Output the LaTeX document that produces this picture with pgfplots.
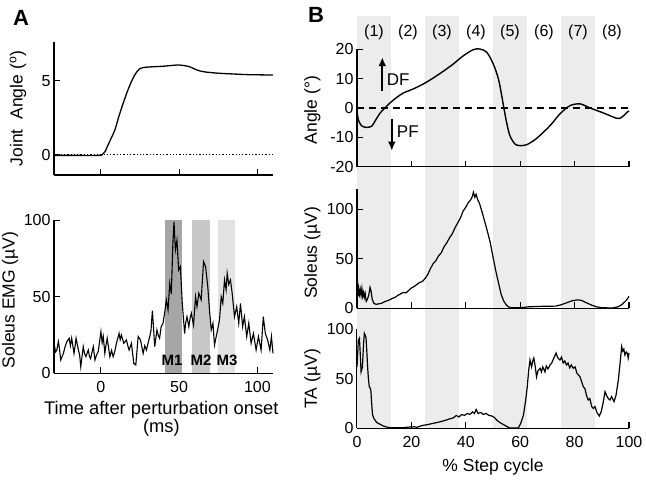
\documentclass[border=0pt]{standalone}
\usepackage{fontspec}
\setmainfont{Liberation Sans}
\usepackage{pgfplots}
\pgfplotsset{compat=1.18}
\usetikzlibrary{arrows.meta}
\definecolor{bandB}{RGB}{236,236,236}
\definecolor{Mone}{RGB}{166,166,166}
\definecolor{Mtwo}{RGB}{200,200,200}
\definecolor{Mthree}{RGB}{227,227,227}
\newcommand{\myfs}{\fontsize{16}{18}\selectfont}
\newcommand{\mylfs}{\fontsize{17.5}{18}\selectfont}
\pgfplotsset{
  myax/.style={
    scale only axis, axis x line*=bottom, axis y line*=left,
    tick align=inside, major tick length=6pt,
    every tick/.style={black, line width=1.1pt},
    axis line style={line width=1.1pt, black},
    xticklabel style={font=\myfs, yshift=-4pt},
    yticklabel style={font=\myfs},
    /pgf/number format/assume math mode=true,
    clip=false, anchor=south west
  }
}
\begin{document}
\begin{tikzpicture}
\path[use as bounding box] (0,0) rectangle (646pt,480pt);
\node[font=\bfseries\fontsize{22}{24}\selectfont] at (21pt,462pt) {A};
\node[font=\bfseries\fontsize{22}{24}\selectfont] at (316pt,465pt) {B};

% ---------- Panel A top ----------
\begin{axis}[myax, at={(54pt,305pt)}, width=219pt, height=133pt,
  xmin=-30, xmax=110, ymin=-1.35, ymax=7.6,
  xtick={0,50,100}, xticklabel=\empty, ytick={0,5},
  ylabel={Joint\ \ Angle (\textsuperscript{o})},
  y label style={font=\mylfs, at={(axis description cs:-0.164,0.5)}, anchor=center}]
\addplot[black, line width=0.9pt, dash pattern=on 1.3pt off 2pt] coordinates {(-30,0) (110,0)};
\addplot[black, line width=1.3pt, smooth] coordinates {
(-30,-0.03) (-15,-0.03) (-1,-0.03) (1,0.05) (2.5,0.2) (3.6,0.45) (6,1.0) (8.9,1.68) (11.5,2.6)
(14.2,3.47) (17,4.3) (19.5,4.93) (22,5.45) (24.8,5.8) (27,5.88) (31,5.92) (40,5.97)
(46,6.03) (50,6.05) (54,6.0) (57,5.92) (60,5.78) (63,5.66) (67,5.58) (75,5.5)
(84,5.45) (95,5.4) (110,5.38)};
\end{axis}

% ---------- Panel A bottom ----------
\begin{axis}[myax, at={(54pt,106.7pt)}, width=219pt, height=153pt,
  xmin=-30, xmax=110, ymin=0, ymax=100,
  xtick={0,50,100}, ytick={0,50,100},
  ylabel={Soleus EMG (µV)},
  y label style={font=\mylfs, at={(axis description cs:-0.201,0.48)}, anchor=center},
  xlabel={Time after perturbation onset\\(ms)},
  x label style={font=\fontsize{18.3}{18}\selectfont, at={(axis description cs:0.49,-0.30)}, anchor=center, align=center}]
\addplot[fill=Mone, draw=none] coordinates {(41,0) (41,100) (52,100) (52,0)} -- cycle;
\addplot[fill=Mtwo, draw=none] coordinates {(58.5,0) (58.5,100) (70,100) (70,0)} -- cycle;
\addplot[fill=Mthree, draw=none] coordinates {(75,0) (75,100) (86,100) (86,0)} -- cycle;
\addplot[black, line width=1.1pt] coordinates {
(-30,19.6) (-29,14) (-28.2,15.2) (-27.2,20.7) (-26.5,16) (-25.7,8.7) (-24,13) (-23,17) (-21.8,20.7)
(-20.3,22.9) (-19.5,18) (-18.7,22.9) (-17.2,13) (-16.5,18) (-15.9,22.9) (-14.4,15.2) (-13.6,12) (-12.9,4.3)
(-11.3,17.4) (-10.5,13) (-9.6,10.9) (-8.1,15.2) (-7.3,11) (-6.6,9.6) (-4.9,17.4) (-3.8,8.7) (-2.8,12) (-1.7,14.3)
(0,27.2) (0.8,20) (1.5,24) (2.5,13) (3.2,18) (4,22.9) (5.7,10.9) (6.8,15) (7.8,10.9) (8.8,14) (9.9,19.6)
(11.6,26.1) (12.3,22) (13.1,25) (14.6,19.6) (16.3,21.8) (17.2,18) (18,15.2) (19.5,19.6) (21,6.5) (22.3,5.4)
(23.8,24) (25.3,21.8) (26.2,17) (27,13) (28,18) (29.1,15.2) (30.2,20) (31.2,24) (32,28) (32.9,41) (33.6,30) (34.4,17.4)
(35.8,28.3) (36.6,25) (37.5,22.9) (38.5,30.5) (39.7,32.7) (40.8,40) (41.8,47.9) (42.9,41.4) (44,58.8)
(45,52) (46,85) (46.7,99) (47.6,80.6) (48.6,87) (49.7,67.5) (50.8,69.7) (52,45.7)
(53.5,26) (54.2,33) (55,37) (56.2,30.5) (57,36) (57.8,39.2) (59.2,31.6) (60.5,50) (61.4,43.6) (62.6,52.3)
(64.1,48) (65.6,73) (66.9,69.7) (68.3,56.6) (69.4,41.4) (70.5,28.3) (71.6,32.7)
(72.6,18.5) (74.1,26) (75.8,34.8) (76.9,50) (77.9,45.7) (79,61) (80,54.5) (80.7,65.4)
(81.7,58) (82.8,61) (83.9,52.3) (85.4,37) (86.8,43.6) (88.1,32.7) (89.2,45.7)
(90.6,30.5) (91.7,37) (93.2,24) (94.5,32.7) (96,19.6) (97.5,26) (99.2,15.2) (100.7,24)
(102.4,15.2) (103.8,37) (105.1,26) (106.6,21.8) (108,15.2) (109,24) (110,13)};
\node[font=\bfseries\fontsize{15}{16}\selectfont] at (axis cs:45.5,8.7) {M1};
\node[font=\bfseries\fontsize{15}{16}\selectfont] at (axis cs:64,8.7) {M2};
\node[font=\bfseries\fontsize{15}{16}\selectfont] at (axis cs:80.7,8.7) {M3};
\end{axis}

% ---------- Panel B: TA (bands drawn here) ----------
\begin{axis}[myax, at={(357pt,51.7pt)}, width=272pt, height=99pt,
  xmin=0, xmax=100, ymin=0, ymax=100,
  xtick={0,20,...,100}, ytick={0,50,100},
  xlabel={\% Step cycle}, ylabel={TA (µV)},
  y label style={font=\mylfs, at={(axis description cs:-0.164,0.5)}, anchor=center},
  x label style={font=\mylfs, at={(axis description cs:0.5,-0.39)}, anchor=center}]
\addplot[fill=bandB, draw=none] coordinates {(0,0) (0,416.5) (12.5,416.5) (12.5,0)} -- cycle;
\addplot[fill=bandB, draw=none] coordinates {(25,0) (25,416.5) (37.5,416.5) (37.5,0)} -- cycle;
\addplot[fill=bandB, draw=none] coordinates {(50,0) (50,416.5) (62.5,416.5) (62.5,0)} -- cycle;
\addplot[fill=bandB, draw=none] coordinates {(75,0) (75,416.5) (87.5,416.5) (87.5,0)} -- cycle;
\addplot[black, line width=1.2pt] coordinates {
(0,62) (0.5,89) (0.9,91) (1.2,75) (1.5,57) (2.0,62) (2.4,85) (2.7,96) (3.0,94) (3.3,92)
(3.6,78) (3.9,62) (4.2,50) (4.5,42) (4.8,41) (5.1,38) (5.4,25) (5.7,14) (6.2,10) (7.2,6)
(8.5,4) (9.7,2.3) (11,1.2) (12.1,0.6) (14,0.5) (17,0.6) (19,1.2) (21,1.5) (22,1.0)
(24,2.8) (26,3.8) (28,5.0) (30,6.2) (31.7,7.4) (33,8.5) (34,9.5) (35.4,10.5) (36.5,13)
(37.5,11.5) (38.5,14) (39.5,13) (40.5,15) (41.5,14) (42.5,16.5) (43.2,15) (43.8,19)
(44.5,15) (45.5,16) (46.4,14) (47.5,15) (48.5,13) (49.5,12.5) (50.5,11) (51.5,8)
(52.6,5.7) (54,3.5) (55,2) (56.2,0.3) (58,0.2) (59.3,0.3) (60.2,5) (61.2,13.4) (62,28)
(62.6,42) (63.1,58) (63.6,69) (64.2,62) (64.6,68) (65,71) (65.5,63) (66,52) (66.5,58)
(67.3,60.6) (67.8,57) (68.3,62) (69.1,57) (69.6,63) (70.2,60) (71,64) (71.6,66)
(72.2,70) (72.7,73) (73.2,76) (73.7,72) (74.2,70) (74.6,69) (75.2,72) (75.8,66)
(76.4,68) (77,64) (77.6,66) (78.2,61) (78.8,64) (79.5,60.6) (80.2,62) (80.8,56)
(81.4,54) (82,52) (82.6,47) (83.2,42) (83.8,40) (84.4,33) (85,28.6) (85.6,30) (86.3,22)
(86.9,20) (87.5,22) (88.2,16) (89.1,12.4) (89.8,17) (90.5,26) (91.2,37) (91.8,33)
(92.4,30) (93,28.6) (93.6,32) (94.5,27) (95.2,33) (95.7,42) (96.1,49) (96.7,65)
(97.3,82.5) (97.7,78) (98.1,80) (98.5,74) (99,77) (99.4,75.8) (99.7,71) (100,76)};
\end{axis}

% ---------- Panel B: Soleus ----------
\begin{axis}[myax, at={(357pt,171.7pt)}, width=272pt, height=119pt,
  xmin=0, xmax=100, ymin=0, ymax=120,
  xtick={0,20,...,100}, xticklabel=\empty, ytick={0,50,100},
  ylabel={Soleus (µV)},
  y label style={font=\mylfs, at={(axis description cs:-0.164,0.465)}, anchor=center}]
\addplot[black, line width=1.2pt] coordinates {
(0,42) (0.3,12) (0.6,20) (0.9,14) (1.2,19) (1.5,13) (1.8,20) (2.1,12) (2.4,16) (2.7,11)
(3.0,15) (3.4,7) (3.8,9) (4.3,13) (4.8,21) (5.2,17) (5.6,9) (6.2,5) (7,4) (8,4.5)
(9,5) (10,6.5) (11,7.5) (12,8.5) (13,10) (14,11) (15,13) (16,14.5) (17,16) (18,15.5)
(19,18) (20,20.5) (21,22) (22,24) (23,26) (24,27) (25,30) (26,34) (27,40) (28,45)
(29,48) (30,53) (31,56) (32,62) (33,66) (34,71) (35,75) (36,81) (37,86) (38,91)
(39,98) (40,102) (41,107) (41.7,109) (42.3,112) (42.8,117) (43.3,112) (43.8,115)
(44.3,110) (45,106) (46,97) (47,87) (48,77) (49,66) (50,52) (51,38) (52,26) (53,14)
(54,7) (55,3) (56,1) (57,0.5) (60,0.5) (63,1.5) (68,2) (73,2.2) (75,3.5) (77,5.5)
(79,7.5) (81,8.5) (82.5,8) (84,6) (86,3.5) (88,1.5) (90,0.6) (94,0.3) (96,1.5)
(97.5,4) (99,8) (100,12)};
\end{axis}

% ---------- Panel B: Angle ----------
\begin{axis}[myax, at={(357pt,313.3pt)}, width=272pt, height=117.4pt,
  xmin=0, xmax=100, ymin=-20, ymax=20,
  xtick={0,20,...,100}, xticklabel=\empty, ytick={-20,-10,...,20},
  ylabel={Angle (°)},
  y label style={font=\mylfs, at={(axis description cs:-0.164,0.483)}, anchor=center}]
\addplot[black, line width=1.3pt, dash pattern=on 7pt off 5pt] coordinates {(0,0) (100,0)};
\addplot[black, line width=1.4pt, smooth, tension=0.5] coordinates {
(0,-1) (0.5,-4.0) (1.7,-6.1) (3.6,-6.6) (5.4,-6.2) (6.6,-4.5) (8.5,-1.7) (10.3,0)
(12.1,1.7) (14.6,3.6) (17,5.1) (20.7,6.5) (24.4,8.2) (28,10.2) (31.7,12.5) (35.4,15)
(39.1,17.8) (42.8,19.9) (45.2,20.1) (47.7,19) (50.1,15) (52,9.9) (53.2,4.2) (54,0)
(55,-4.9) (56.2,-9.4) (58.1,-12.3) (59.9,-12.8) (62.4,-12.5) (66.1,-10.3) (71,-6)
(74.6,-2) (78.3,0.8) (82,1.4) (85.7,0) (90.6,-1.7) (95.5,-3.5) (97.3,-3.2) (99.1,-1.6)
(100,-1.0)};
\draw[-{Latex[length=9pt,width=8pt]}, line width=1.7pt] (axis cs:9.3,5.9) -- (axis cs:9.3,17.3);
\draw[-{Latex[length=9pt,width=8pt]}, line width=1.7pt] (axis cs:12.8,-3.7) -- (axis cs:12.8,-14.5);
\node[font=\fontsize{17}{18}\selectfont, anchor=west, inner sep=0pt] at (axis cs:10.9,9.5) {DF};
\node[font=\fontsize{17}{18}\selectfont, anchor=west, inner sep=0pt] at (axis cs:14.6,-8.2) {PF};
\node[font=\myfs] at (axis cs:6.25,25.9) {(1)};
\node[font=\myfs] at (axis cs:18.75,25.9) {(2)};
\node[font=\myfs] at (axis cs:31.25,25.9) {(3)};
\node[font=\myfs] at (axis cs:43.75,25.9) {(4)};
\node[font=\myfs] at (axis cs:56.25,25.9) {(5)};
\node[font=\myfs] at (axis cs:68.75,25.9) {(6)};
\node[font=\myfs] at (axis cs:81.25,25.9) {(7)};
\node[font=\myfs] at (axis cs:93.75,25.9) {(8)};
\end{axis}
\end{tikzpicture}
\end{document}
